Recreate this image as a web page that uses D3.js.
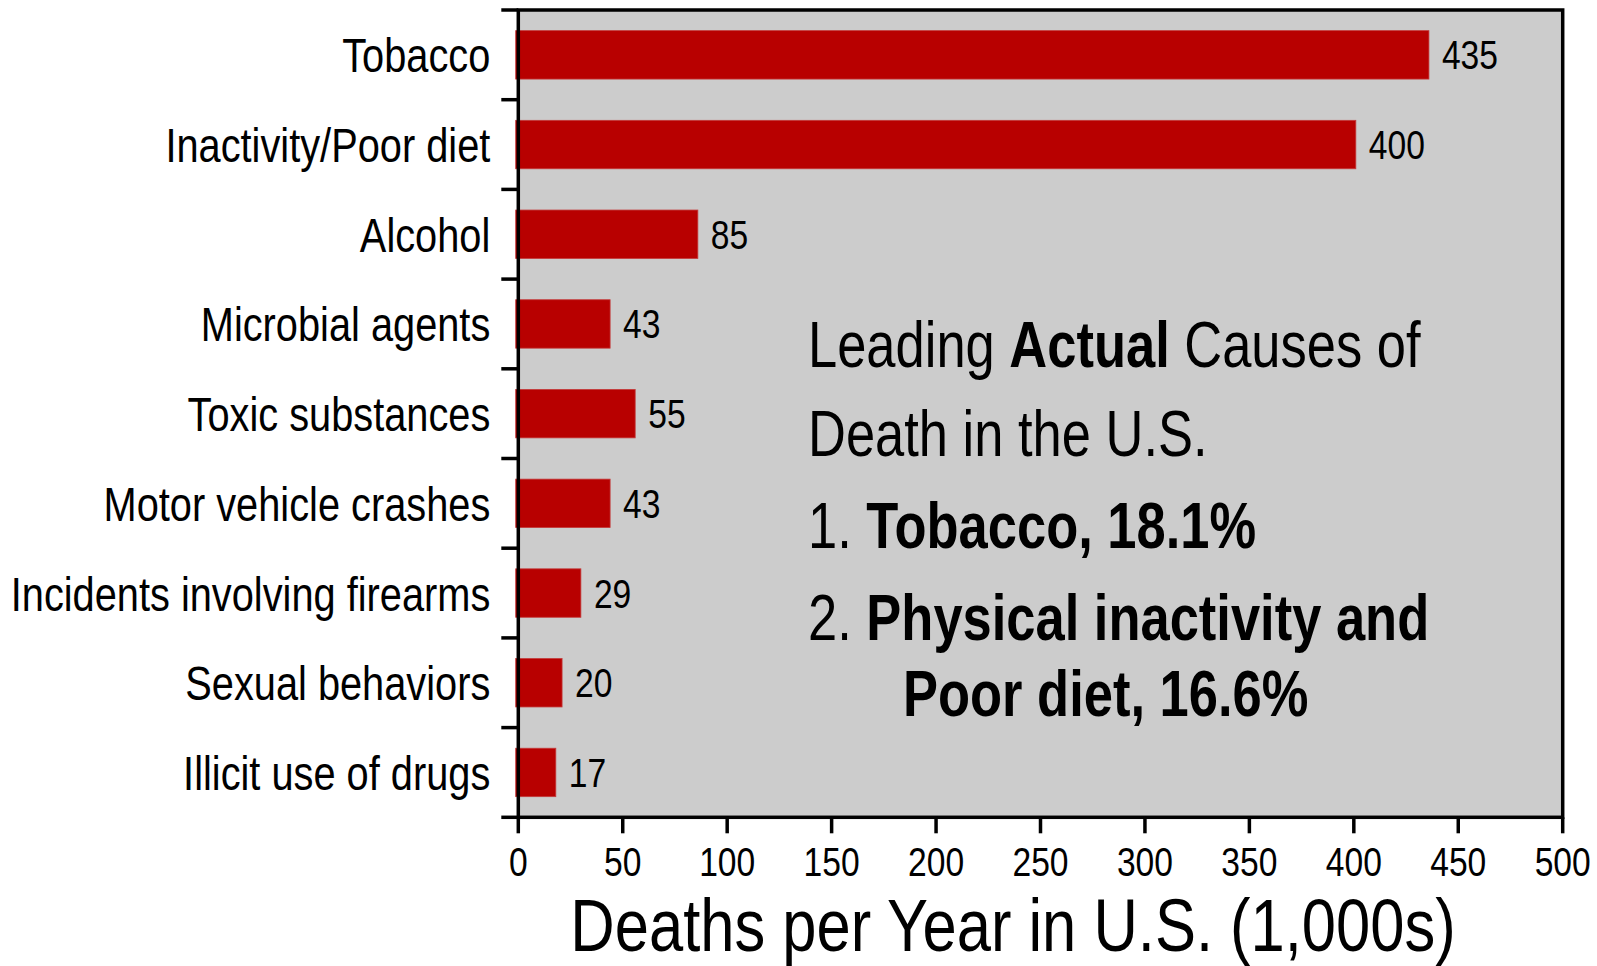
<!DOCTYPE html>
<html>
<head>
<meta charset="utf-8">
<script src="https://cdn.jsdelivr.net/npm/d3@7/dist/d3.min.js"></script>
<style>
  html, body { margin: 0; padding: 0; background: #ffffff; }
  svg { display: block; }
  text { font-family: "Liberation Sans", Arial, sans-serif; fill: #000; }
</style>
</head>
<body>
<svg id="chart" width="1597" height="966"></svg>
<script>
// ---- data ----
const categories = ["Tobacco", "Inactivity/Poor diet", "Alcohol", "Microbial agents", "Toxic substances",
                    "Motor vehicle crashes", "Incidents involving firearms", "Sexual behaviors", "Illicit use of drugs"];
const deaths = [435, 400, 85, 43, 55, 43, 29, 20, 17];
const xTicks = [0, 50, 100, 150, 200, 250, 300, 350, 400, 450, 500];
const axisTitle = "Deaths per Year in U.S. (1,000s)";
const noteLines = [
  [{t: "Leading ", b: false}, {t: "Actual", b: true}, {t: " Causes of", b: false}],
  [{t: "Death in the U.S.", b: false}],
  [{t: "1. ", b: false}, {t: "Tobacco, 18.1%", b: true}],
  [{t: "2. ", b: false}, {t: "Physical inactivity and", b: true}],
  [{t: "Poor diet, 16.6%", b: true}]
];

// ---- layout ----
const SX = 0.82; // horizontal compression to emulate a narrow face
const svg = d3.select("#chart");
const plot = {left: 518.3, right: 1562.7, top: 10, bottom: 817.3};

const x = d3.scaleLinear().domain([0, 500]).range([plot.left, plot.right]);
const y = d3.scaleBand().domain(categories).range([plot.top, plot.bottom])
  .paddingInner(0.46).paddingOuter(0.23);

function narrowText(parent, tx, ty, size, anchor) {
  const g = parent.append("g").attr("transform", `translate(${tx},${ty}) scale(${SX},1)`);
  return g.append("text").attr("x", 0).attr("y", 0)
    .attr("font-size", size).attr("text-anchor", anchor || "start");
}

// background
svg.append("rect")
  .attr("x", plot.left).attr("y", plot.top)
  .attr("width", plot.right - plot.left).attr("height", plot.bottom - plot.top)
  .attr("fill", "#cccccc");

// bars
svg.append("g").selectAll("rect").data(categories).join("rect")
  .attr("x", x(0) - 2.6)
  .attr("y", d => y(d))
  .attr("width", (d, i) => x(deaths[i]) - x(0) + 4.6)
  .attr("height", y.bandwidth())
  .attr("fill", "#b80000")
  .attr("stroke", "#c43a3a")
  .attr("stroke-width", 0.8);

// value labels
const vals = svg.append("g");
categories.forEach((c, i) => {
  narrowText(vals, x(deaths[i]) + 15, y(c) + y.bandwidth() / 2 + 14.5, 41, "start").text(deaths[i]);
});

// frame
svg.append("rect")
  .attr("x", plot.left).attr("y", plot.top)
  .attr("width", plot.right - plot.left).attr("height", plot.bottom - plot.top)
  .attr("fill", "none").attr("stroke", "#000").attr("stroke-width", 3.5);

// y ticks at category boundaries
const step = y.step();
const yBounds = d3.range(categories.length + 1).map(i => plot.top + i * step);
svg.append("g").selectAll("line").data(yBounds).join("line")
  .attr("x1", plot.left - 17).attr("x2", plot.left)
  .attr("y1", d => d).attr("y2", d => d)
  .attr("stroke", "#000").attr("stroke-width", 3.5);

// category labels
const cats = svg.append("g");
categories.forEach(c => {
  narrowText(cats, plot.left - 28, y(c) + y.bandwidth() / 2 + 17.5, 48.5, "end").text(c);
});

// x axis ticks
svg.append("g").selectAll("line").data(xTicks).join("line")
  .attr("x1", d => x(d)).attr("x2", d => x(d))
  .attr("y1", plot.bottom).attr("y2", plot.bottom + 16)
  .attr("stroke", "#000").attr("stroke-width", 3.5);

const xl = svg.append("g");
xTicks.forEach(t => {
  narrowText(xl, x(t), 876, 41, "middle").text(t);
});

// axis title
narrowText(svg, 1013, 951, 75, "middle").text(axisTitle);

// annotation
const noteY = [367, 456, 548, 640, 716];
const noteX = [808, 808, 808, 808, 903];
const note = svg.append("g");
noteLines.forEach((line, i) => {
  const t = narrowText(note, noteX[i], noteY[i], 64, "start");
  line.forEach(seg => {
    t.append("tspan").attr("font-weight", seg.b ? "bold" : "normal").text(seg.t);
  });
});
</script>
</body>
</html>
